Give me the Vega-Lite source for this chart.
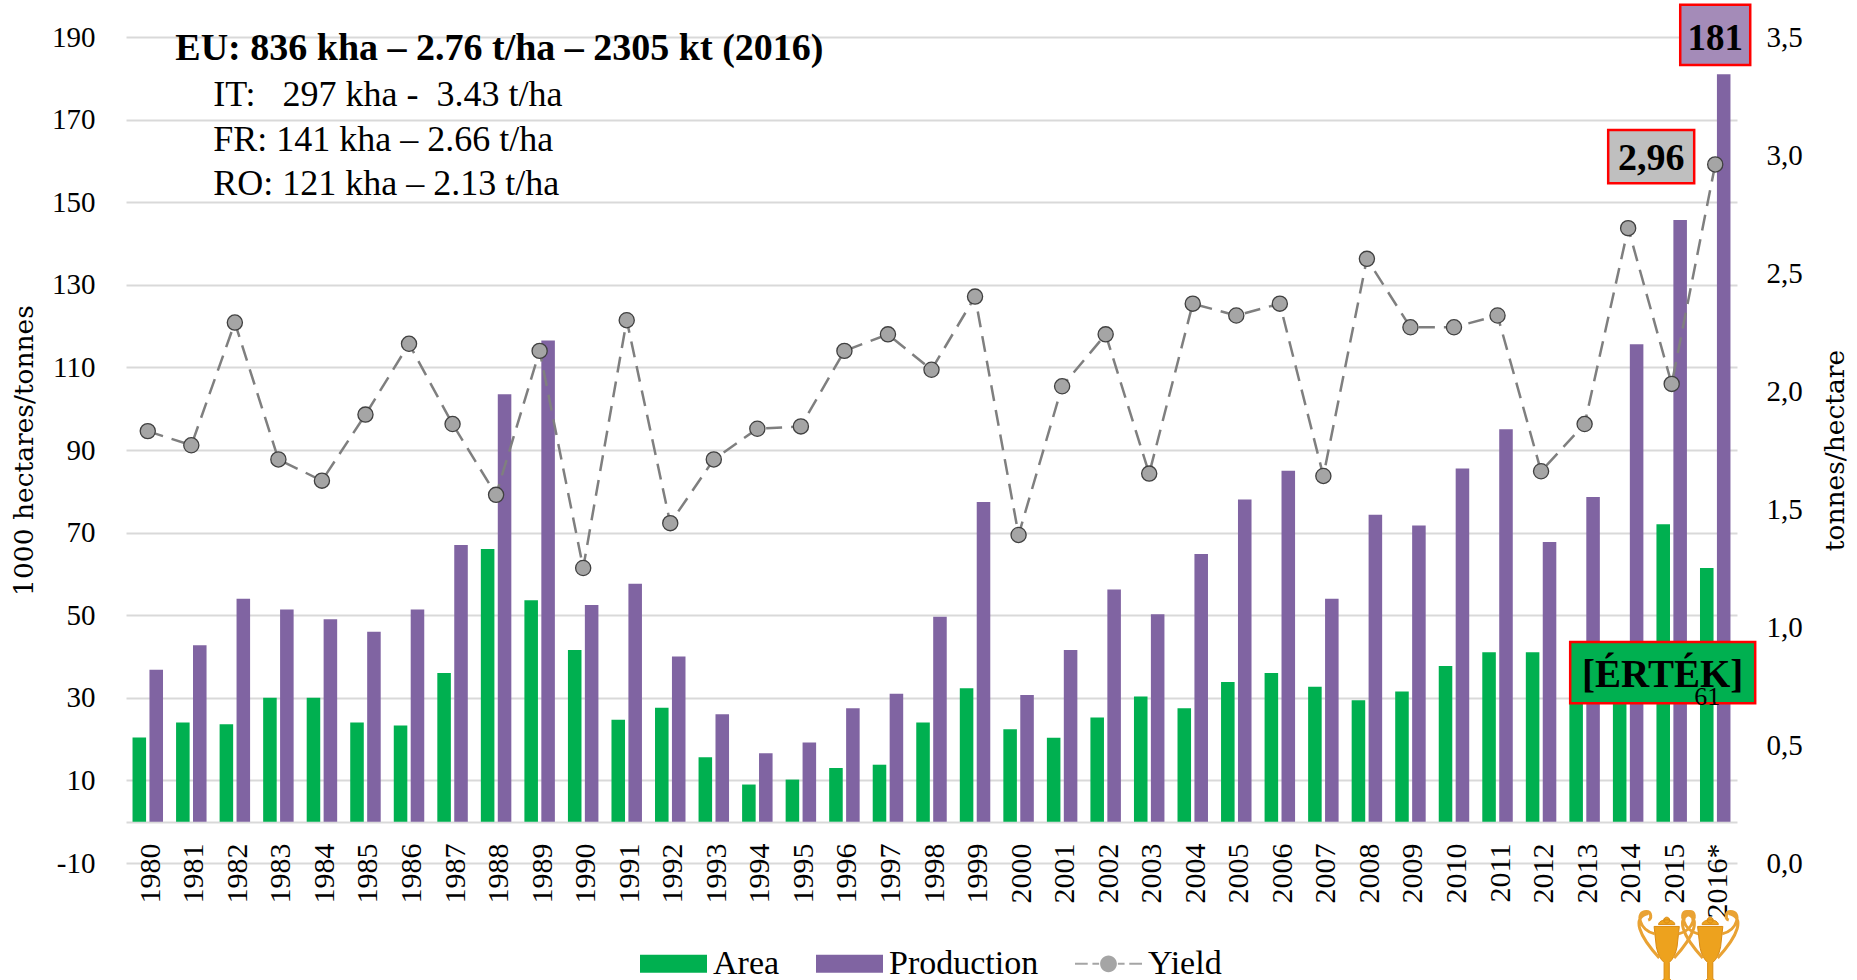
{
"$schema":"https://vega.github.io/schema/vega-lite/v6.json",
"width":1611,"height":826,
"autosize":"none",
"padding":{"left":126,"top":37,"right":120,"bottom":117},
"background":"white",
"datasets":{
"bars":[
{"year":"1980","series":"Area","value":20.4},{"year":"1981","series":"Area","value":24},{"year":"1982","series":"Area","value":23.6},{"year":"1983","series":"Area","value":30},{"year":"1984","series":"Area","value":30},{"year":"1985","series":"Area","value":24},{"year":"1986","series":"Area","value":23.3},{"year":"1987","series":"Area","value":36},{"year":"1988","series":"Area","value":66},{"year":"1989","series":"Area","value":53.6},{"year":"1990","series":"Area","value":41.6},{"year":"1991","series":"Area","value":24.7},{"year":"1992","series":"Area","value":27.6},{"year":"1993","series":"Area","value":15.6},{"year":"1994","series":"Area","value":9},{"year":"1995","series":"Area","value":10.2},{"year":"1996","series":"Area","value":13},{"year":"1997","series":"Area","value":13.8},{"year":"1998","series":"Area","value":24},{"year":"1999","series":"Area","value":32.3},{"year":"2000","series":"Area","value":22.4},{"year":"2001","series":"Area","value":20.3},{"year":"2002","series":"Area","value":25.2},{"year":"2003","series":"Area","value":30.3},{"year":"2004","series":"Area","value":27.5},{"year":"2005","series":"Area","value":33.8},{"year":"2006","series":"Area","value":36},{"year":"2007","series":"Area","value":32.7},{"year":"2008","series":"Area","value":29.4},{"year":"2009","series":"Area","value":31.5},{"year":"2010","series":"Area","value":37.7},{"year":"2011","series":"Area","value":41},{"year":"2012","series":"Area","value":41},{"year":"2013","series":"Area","value":36},{"year":"2014","series":"Area","value":35},{"year":"2015","series":"Area","value":72},{"year":"2016*","series":"Area","value":61.4},
{"year":"1980","series":"Production","value":36.8},{"year":"1981","series":"Production","value":42.7},{"year":"1982","series":"Production","value":54},{"year":"1983","series":"Production","value":51.4},{"year":"1984","series":"Production","value":49},{"year":"1985","series":"Production","value":46},{"year":"1986","series":"Production","value":51.4},{"year":"1987","series":"Production","value":67},{"year":"1988","series":"Production","value":103.5},{"year":"1989","series":"Production","value":116.5},{"year":"1990","series":"Production","value":52.5},{"year":"1991","series":"Production","value":57.6},{"year":"1992","series":"Production","value":40},{"year":"1993","series":"Production","value":26},{"year":"1994","series":"Production","value":16.6},{"year":"1995","series":"Production","value":19.2},{"year":"1996","series":"Production","value":27.5},{"year":"1997","series":"Production","value":31},{"year":"1998","series":"Production","value":49.6},{"year":"1999","series":"Production","value":77.4},{"year":"2000","series":"Production","value":30.7},{"year":"2001","series":"Production","value":41.6},{"year":"2002","series":"Production","value":56.2},{"year":"2003","series":"Production","value":50.2},{"year":"2004","series":"Production","value":64.8},{"year":"2005","series":"Production","value":78},{"year":"2006","series":"Production","value":85},{"year":"2007","series":"Production","value":54},{"year":"2008","series":"Production","value":74.3},{"year":"2009","series":"Production","value":71.7},{"year":"2010","series":"Production","value":85.5},{"year":"2011","series":"Production","value":95},{"year":"2012","series":"Production","value":67.7},{"year":"2013","series":"Production","value":78.6},{"year":"2014","series":"Production","value":115.6},{"year":"2015","series":"Production","value":145.7},{"year":"2016*","series":"Production","value":181}
],
"yield":[
{"year":"1980","series":"Yield","value":1.83},{"year":"1981","series":"Yield","value":1.77},{"year":"1982","series":"Yield","value":2.29},{"year":"1983","series":"Yield","value":1.71},{"year":"1984","series":"Yield","value":1.62},{"year":"1985","series":"Yield","value":1.90},{"year":"1986","series":"Yield","value":2.20},{"year":"1987","series":"Yield","value":1.86},{"year":"1988","series":"Yield","value":1.56},{"year":"1989","series":"Yield","value":2.17},{"year":"1990","series":"Yield","value":1.25},{"year":"1991","series":"Yield","value":2.30},{"year":"1992","series":"Yield","value":1.44},{"year":"1993","series":"Yield","value":1.71},{"year":"1994","series":"Yield","value":1.84},{"year":"1995","series":"Yield","value":1.85},{"year":"1996","series":"Yield","value":2.17},{"year":"1997","series":"Yield","value":2.24},{"year":"1998","series":"Yield","value":2.09},{"year":"1999","series":"Yield","value":2.40},{"year":"2000","series":"Yield","value":1.39},{"year":"2001","series":"Yield","value":2.02},{"year":"2002","series":"Yield","value":2.24},{"year":"2003","series":"Yield","value":1.65},{"year":"2004","series":"Yield","value":2.37},{"year":"2005","series":"Yield","value":2.32},{"year":"2006","series":"Yield","value":2.37},{"year":"2007","series":"Yield","value":1.64},{"year":"2008","series":"Yield","value":2.56},{"year":"2009","series":"Yield","value":2.27},{"year":"2010","series":"Yield","value":2.27},{"year":"2011","series":"Yield","value":2.32},{"year":"2012","series":"Yield","value":1.66},{"year":"2013","series":"Yield","value":1.86},{"year":"2014","series":"Yield","value":2.69},{"year":"2015","series":"Yield","value":2.03},{"year":"2016*","series":"Yield","value":2.96}
]
},
"config":{"font":"Liberation Serif","view":{"stroke":null}},
"encoding":{"x":{"field":"year","type":"nominal","sort":null,
"scale":{"domain":["1980","1981","1982","1983","1984","1985","1986","1987","1988","1989","1990","1991","1992","1993","1994","1995","1996","1997","1998","1999","2000","2001","2002","2003","2004","2005","2006","2007","2008","2009","2010","2011","2012","2013","2014","2015","2016*"],"paddingInner":0.3,"paddingOuter":0.15},
"axis":{"title":null,"labelAngle":-90,"labelAlign":"right","labelBaseline":"middle","labelPadding":-20,"labelOffset":3,"labelFontSize":30,"labelColor":"#000","ticks":false,"domain":false,"grid":false,"labelOverlap":false}}},
"layer":[
{"layer":[
{"data":{"name":"bars"},"mark":{"type":"bar"},
 "encoding":{
 "xOffset":{"field":"series","type":"nominal","sort":["Area","Production"],"scale":{"paddingInner":0.2,"paddingOuter":0}},
 "y":{"field":"value","type":"quantitative","stack":null,
  "scale":{"domain":[-10,190],"nice":false,"zero":false},
  "axis":{"title":"1000 hectares/tonnes","titleFont":"DejaVu Serif","titleFontSize":26.5,"titleFontWeight":"normal","titleColor":"#000","titleX":-88,"values":[-10,0,10,30,50,70,90,110,130,150,170,190],"labelExpr":"datum.value==0?'':(datum.value==-10?'-10':datum.label)","labelFontSize":29,"labelColor":"#000","labelPadding":31,"ticks":false,"domain":false,"grid":true,"gridColor":"#D9D9D9","gridWidth":2}},
 "color":{"field":"series","type":"nominal","scale":{"domain":["Area","Production","Yield"],"range":["#00B050","#8064A2","#A5A5A5"]},
  "legend":{"title":null,"orient":"none","direction":"horizontal","legendX":514,"legendY":893,"symbolSize":4489,"labelFontSize":34,"labelColor":"#000","labelOffset":6,"columnPadding":36,"symbolStrokeWidth":0,"symbolOpacity":1}}
 }},
{"data":{"values":[{"year":"2016*","a":183.2,"b":197.8}]},"mark":{"type":"bar","width":70,"fill":"#A48BB8","stroke":"#FF0000","strokeWidth":2.5},
 "encoding":{"y":{"field":"a","type":"quantitative"},"y2":{"field":"b"}}},
{"data":{"values":[{"year":"2015","a":154.6,"b":167.5}]},"mark":{"type":"bar","width":86,"xOffset":-20.5,"fill":"#BFBFBF","stroke":"#FF0000","strokeWidth":2.5},
 "encoding":{"y":{"field":"a","type":"quantitative"},"y2":{"field":"b"}}},
{"data":{"values":[{"year":"2015","a":28.7,"b":43.5}]},"mark":{"type":"bar","width":185,"xOffset":-9,"fill":"#00B050","stroke":"#FF0000","strokeWidth":2.5},
 "encoding":{"y":{"field":"a","type":"quantitative"},"y2":{"field":"b"}}},
{"data":{"values":[{"year":"2016*","v":189.4,"t":"181"}]},"mark":{"type":"text","fontWeight":"bold","fontSize":37,"color":"#000"},
 "encoding":{"y":{"field":"v","type":"quantitative"},"text":{"field":"t"}}},
{"data":{"values":[{"year":"2015","v":160.4,"t":"2,96"}]},"mark":{"type":"text","fontWeight":"bold","fontSize":38,"dx":-20.5,"color":"#000"},
 "encoding":{"y":{"field":"v","type":"quantitative"},"text":{"field":"t"}}},
{"data":{"values":[{"year":"2015","v":35.5,"t":"[ÉRTÉK]"}]},"mark":{"type":"text","fontWeight":"bold","fontSize":39,"dx":-9,"color":"#000"},
 "encoding":{"y":{"field":"v","type":"quantitative"},"text":{"field":"t"}}},
{"data":{"values":[{"year":"2016*","v":30.2,"t":"61"}]},"mark":{"type":"text","fontSize":26,"dx":-8,"color":"#000"},
 "encoding":{"y":{"field":"v","type":"quantitative"},"text":{"field":"t"}}},
{"data":{"values":[{"year":"1981","v":187.2,"t":"EU: 836 kha – 2.76 t/ha – 2305 kt (2016)"}]},"mark":{"type":"text","fontWeight":"bold","fontSize":38,"align":"left","dx":-16,"color":"#000"},
 "encoding":{"y":{"field":"v","type":"quantitative"},"text":{"field":"t"}}},
{"data":{"values":[{"year":"1981","v":176,"t":"IT:\u00a0\u00a0\u00a0297 kha -\u00a0\u00a03.43 t/ha"},{"year":"1981","v":165.1,"t":"FR: 141 kha – 2.66 t/ha"},{"year":"1981","v":154.5,"t":"RO: 121 kha – 2.13 t/ha"}]},"mark":{"type":"text","fontSize":36,"align":"left","dx":22,"color":"#000"},
 "encoding":{"y":{"field":"v","type":"quantitative"},"text":{"field":"t"}}},
{"data":{"values":[{"year":"2015","v":-30.3},{"year":"2016*","v":-30.3}]},"mark":{"type":"point","filled":true,"xOffset":-5,"size":5500,"opacity":1,"fill":"#EDA21E","stroke":"#D98A12","strokeWidth":1,"shape":"M-0.34,-0.55L0.34,-0.55L0.28,0Q0.22,0.3 0.07,0.42L0.07,0.85L0.2,1L-0.2,1L-0.07,0.85L-0.07,0.42Q-0.22,0.3 -0.28,0ZM-0.22,-0.6A0.22,0.13 0 0 1 0.22,-0.6ZM-0.08,-0.72A0.08,0.08 0 1 1 0.08,-0.72A0.08,0.08 0 1 1 -0.08,-0.72Z"},
 "encoding":{"y":{"field":"v","type":"quantitative"}}},
{"data":{"values":[{"year":"2015","v":-30.3},{"year":"2016*","v":-30.3}]},"mark":{"type":"point","filled":false,"xOffset":-5,"size":5500,"opacity":1,"stroke":"#E9A233","strokeWidth":3,"shape":"M-0.32,-0.35C-0.75,-0.45 -0.85,-0.95 -0.55,-0.95C-0.4,-0.95 -0.4,-0.75 -0.5,-0.72M-0.5,-0.9C-0.95,-0.8 -0.75,-0.3 -0.2,0.3M0.32,-0.35C0.75,-0.45 0.85,-0.95 0.55,-0.95C0.4,-0.95 0.4,-0.75 0.5,-0.72M0.5,-0.9C0.95,-0.8 0.75,-0.3 0.2,0.3"},
 "encoding":{"y":{"field":"v","type":"quantitative"}}}
]},
{"layer":[
{"data":{"name":"yield"},"mark":{"type":"line","color":"#7F7F7F","strokeWidth":2.5,"strokeDash":[16,9]},
 "encoding":{"y":{"field":"value","type":"quantitative",
  "scale":{"domain":[0,3.5],"nice":false},
  "axis":{"orient":"right","title":"tonnes/hectare","titleFont":"DejaVu Serif","titleFontSize":26.5,"titleFontWeight":"normal","titleColor":"#000","titleAngle":270,"titleBaseline":"bottom","titleX":112,"values":[0,0.5,1,1.5,2,2.5,3,3.5],"labelExpr":"replace(format(datum.value,'.1f'),'.',',')","labelFontSize":29,"labelColor":"#000","labelPadding":29,"ticks":false,"domain":false,"grid":false}}}},
{"data":{"name":"yield"},"mark":{"type":"point","filled":true,"size":150,"opacity":1},
 "encoding":{"y":{"field":"value","type":"quantitative"},
 "color":{"field":"series","type":"nominal","scale":{"domain":["Area","Production","Yield"],"range":["#00B050","#8064A2","#A5A5A5"]}},
 "shape":{"field":"series","type":"nominal","scale":{"domain":["Area","Production","Yield"],"range":["M-1,-0.27H1V0.27H-1Z","M-1,-0.27H1V0.27H-1Z","M-1,-0.03H-0.62V0.03H-1ZM-0.48,-0.03H-0.28V0.03H-0.48ZM-0.25,0A0.25,0.25 0 1 1 0.25,0A0.25,0.25 0 1 1 -0.25,0ZM0.28,-0.03H0.48V0.03H0.28ZM0.62,-0.03H1V0.03H0.62Z"]},"legend":{"title":null}}
 }},
{"data":{"name":"yield"},"mark":{"type":"circle","size":230,"opacity":1,"fill":"#A5A5A5","stroke":"#404040","strokeWidth":1.3},
 "encoding":{"y":{"field":"value","type":"quantitative"}}}
]}
],
"resolve":{"scale":{"y":"independent"},"axis":{"y":"independent"}}
}
